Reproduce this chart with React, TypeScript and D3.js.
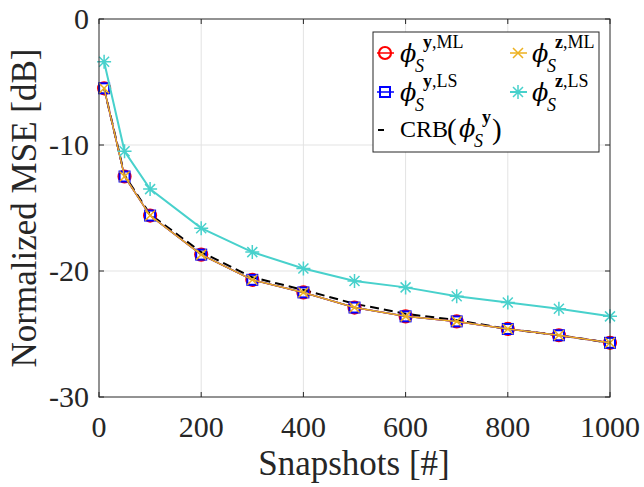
import React from "react";
import * as d3 from "d3";

const snapshots = [10, 50, 100, 200, 300, 400, 500, 600, 700, 800, 900, 1000];
const mlY = [-5.5, -12.5, -15.6, -18.7, -20.7, -21.7, -22.9, -23.6, -24.0, -24.6, -25.1, -25.7];
const lsY = [-5.5, -12.5, -15.6, -18.7, -20.7, -21.7, -22.9, -23.6, -24.0, -24.6, -25.1, -25.7];
const mlZ = [-5.5, -12.5, -15.6, -18.7, -20.7, -21.7, -22.9, -23.6, -24.0, -24.6, -25.1, -25.7];
const lsZ = [-3.4, -10.5, -13.5, -16.6, -18.5, -19.8, -20.8, -21.3, -22.0, -22.5, -23.0, -23.6];
const crb = [-5.5, -12.4, -15.5, -18.5, -20.5, -21.5, -22.6, -23.4, -23.9, -24.6, -25.1, -25.7];
const xTicks = [0, 200, 400, 600, 800, 1000];
const yTicks = [0, -10, -20, -30];

const FONT = "'Liberation Serif', 'Times New Roman', serif";
const PHIFONT = "'DejaVu Serif', serif";
const AX = "#262626";
const RED = "#ff0000";
const BLUE = "#0000ff";
const ORANGE = "#EDB120";
const CYAN = "#48D1CC";

const W = 644, H = 487;
const L = 99, R = 610, T = 19, B = 397;

const x = d3.scaleLinear().domain([0, 1000]).range([L, R]);
const y = d3.scaleLinear().domain([-30, 0]).range([B, T]);

type Pt = [number, number];
const pts = (vals: number[]): Pt[] => snapshots.map((s, i) => [x(s), y(vals[i])]);
const line = d3.line<Pt>().x(d => d[0]).y(d => d[1]);

function Circle({ cx, cy }: { cx: number; cy: number }) {
  return <circle cx={cx} cy={cy} r={6} fill="none" stroke={RED} strokeWidth={2.2} />;
}
function Square({ cx, cy }: { cx: number; cy: number }) {
  return <rect x={cx - 5} y={cy - 5} width={10} height={10} fill="none" stroke={BLUE} strokeWidth={2} />;
}
function Cross({ cx, cy }: { cx: number; cy: number }) {
  const h = 5;
  return (
    <path d={`M${cx - h},${cy - h}L${cx + h},${cy + h}M${cx - h},${cy + h}L${cx + h},${cy - h}`}
      stroke={ORANGE} strokeWidth={1.5} fill="none" />
  );
}
function Star({ cx, cy }: { cx: number; cy: number }) {
  const h = 7, d = 5;
  return (
    <path d={`M${cx - h},${cy}L${cx + h},${cy}M${cx},${cy - h}L${cx},${cy + h}M${cx - d},${cy - d}L${cx + d},${cy + d}M${cx - d},${cy + d}L${cx + d},${cy - d}`}
      stroke={CYAN} strokeWidth={1.5} fill="none" />
  );
}

function PhiLabel({ x0, base, sup, tag }: { x0: number; base: number; sup: string; tag?: string }) {
  return (
    <g fontFamily={FONT} fill="#000">
      <text x={x0} y={base} fontSize={24} fontStyle="italic" fontFamily={PHIFONT}>ϕ</text>
      <text x={x0 + 23} y={base - 14} fontSize={18}>
        <tspan fontWeight="bold">{sup}</tspan>
        {tag ? <tspan>{"," + tag}</tspan> : null}
      </text>
      <text x={x0 + 15} y={base + 10} fontSize={18} fontStyle="italic">S</text>
    </g>
  );
}

export default function App() {
  const series = [
    { vals: mlY, color: RED, w: 1.5, M: Circle },
    { vals: lsY, color: BLUE, w: 1.5, M: Square },
    { vals: mlZ, color: ORANGE, w: 1.5, M: Cross },
    { vals: lsZ, color: CYAN, w: 2, M: Star },
  ];
  return (
    <svg width={W} height={H} style={{ position: "absolute", left: 0, top: 0, background: "#fff" }}>
      <rect x={0} y={0} width={W} height={H} fill="#fff" />
      {xTicks.slice(1, -1).map(t => (
        <line key={"gx" + t} x1={x(t)} x2={x(t)} y1={T} y2={B} stroke="#e3e3e3" strokeWidth={1} />
      ))}
      {yTicks.slice(1, -1).map(t => (
        <line key={"gy" + t} x1={L} x2={R} y1={y(t)} y2={y(t)} stroke="#e3e3e3" strokeWidth={1} />
      ))}
      <path d={line(pts(crb)) || ""} fill="none" stroke="#000" strokeWidth={2} strokeDasharray="9 5" />
      {series.map((s, i) => (
        <g key={i}>
          <path d={line(pts(s.vals)) || ""} fill="none" stroke={s.color} strokeWidth={s.w} />
          {pts(s.vals).map((p, j) => <s.M key={j} cx={p[0]} cy={p[1]} />)}
        </g>
      ))}
      <rect x={L} y={T} width={R - L} height={B - T} fill="none" stroke={AX} strokeWidth={1} />
      {xTicks.map(t => (
        <g key={"tx" + t}>
          <line x1={x(t)} x2={x(t)} y1={B} y2={B - 5} stroke={AX} />
          <line x1={x(t)} x2={x(t)} y1={T} y2={T + 5} stroke={AX} />
          <text x={x(t)} y={437} textAnchor="middle" fontFamily={FONT} fontSize={30} fill={AX}>{t}</text>
        </g>
      ))}
      {yTicks.map(t => (
        <g key={"ty" + t}>
          <line x1={L} x2={L + 5} y1={y(t)} y2={y(t)} stroke={AX} />
          <line x1={R} x2={R - 5} y1={y(t)} y2={y(t)} stroke={AX} />
          <text x={89} y={y(t) + 10} textAnchor="end" fontFamily={FONT} fontSize={30} fill={AX}>{t}</text>
        </g>
      ))}
      <text x={354} y={475} textAnchor="middle" fontFamily={FONT} fontSize={35} fill={AX}>Snapshots [#]</text>
      <text transform={`translate(36,208) rotate(-90)`} textAnchor="middle" fontFamily={FONT} fontSize={35} fill={AX}>Normalized MSE [dB]</text>
      <rect x={373} y={32} width={226} height={120} fill="#fff" stroke={AX} strokeWidth={1} />
      <line x1={377} x2={394} y1={53} y2={53} stroke={RED} strokeWidth={1.5} />
      <Circle cx={385} cy={53} />
      <PhiLabel x0={400} base={62} sup="y" tag="ML" />
      <line x1={510} x2={527} y1={53} y2={53} stroke={ORANGE} strokeWidth={1.5} />
      <Cross cx={518} cy={53} />
      <PhiLabel x0={532} base={62} sup="z" tag="ML" />
      <line x1={377} x2={394} y1={92} y2={92} stroke={BLUE} strokeWidth={1.5} />
      <Square cx={385} cy={92} />
      <PhiLabel x0={400} base={101} sup="y" tag="LS" />
      <line x1={510} x2={527} y1={92} y2={92} stroke={CYAN} strokeWidth={2} />
      <Star cx={518} cy={92} />
      <PhiLabel x0={532} base={101} sup="z" tag="LS" />
      <line x1={378} x2={384} y1={130} y2={130} stroke="#000" strokeWidth={2} />
      <text x={400} y={137} fontFamily={FONT} fontSize={24} fill="#000">CRB</text>
      <text x={447} y={139} fontFamily={FONT} fontSize={29} fill="#000">(</text>
      <PhiLabel x0={459} base={137} sup="y" />
      <text x={492} y={139} fontFamily={FONT} fontSize={29} fill="#000">)</text>
    </svg>
  );
}
